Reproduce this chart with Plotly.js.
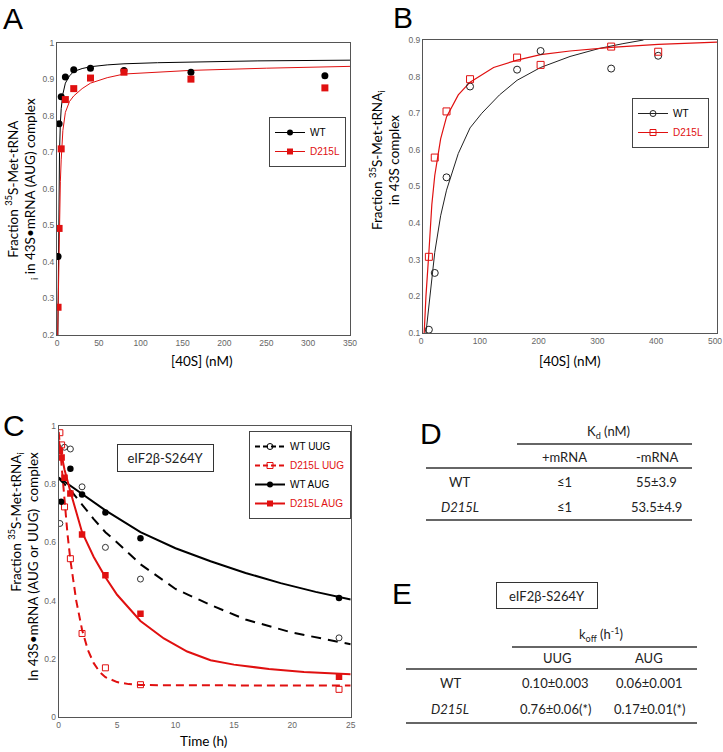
<!DOCTYPE html>
<html>
<head>
<meta charset="utf-8">
<script src="https://cdn.plot.ly/plotly-3.0.1.min.js"></script>
<style>html,body{margin:0;padding:0;background:#fff;}#chart{width:723px;height:752px;}</style>
</head>
<body>
<div id="chart"></div>
<script>
// ---------- Panel A data ----------
const aConc = [1.25, 2.5, 5, 10, 20, 40, 80, 160, 320];
const aWT = [0.415, 0.779, 0.853, 0.907, 0.927, 0.931, 0.925, 0.920, 0.910];
const aD215L = [0.276, 0.492, 0.710, 0.845, 0.875, 0.904, 0.920, 0.901, 0.877];
const aFitWTx = [1.0, 1.5, 2, 2.5, 3, 4, 5, 7, 10, 15, 20, 30, 40, 60, 80, 120, 160, 240, 350];
const aFitWTy = [0.2, 0.40, 0.55, 0.64, 0.70, 0.78, 0.82, 0.86, 0.89, 0.91, 0.922, 0.93, 0.935, 0.94, 0.943, 0.946, 0.948, 0.951, 0.953];
const aFitDx = [0.8, 1.25, 2, 2.5, 3, 4, 5, 7, 10, 15, 20, 30, 40, 60, 80, 120, 160, 250, 350];
const aFitDy = [0.2, 0.27, 0.38, 0.45, 0.52, 0.62, 0.68, 0.76, 0.81, 0.84, 0.855, 0.875, 0.89, 0.905, 0.915, 0.921, 0.925, 0.931, 0.936];

// ---------- Panel B data ----------
const bConc = [10, 20, 40, 80, 160, 200, 320, 400];
const bWT = [0.109, 0.264, 0.525, 0.773, 0.819, 0.870, 0.822, 0.857];
const bD215L = [0.308, 0.579, 0.705, 0.793, 0.852, 0.832, 0.882, 0.868];
const bFitWTx = [5, 10, 15, 20, 30, 40, 60, 80, 100, 130, 160, 200, 250, 300, 340, 375];
const bFitWTy = [0.1, 0.18, 0.26, 0.32, 0.42, 0.49, 0.59, 0.66, 0.70, 0.75, 0.79, 0.825, 0.855, 0.877, 0.89, 0.9];
const bFitDx = [2, 5, 10, 15, 20, 30, 40, 60, 80, 120, 160, 200, 250, 320, 400, 500];
const bFitDy = [0.1, 0.2, 0.32, 0.45, 0.53, 0.63, 0.69, 0.75, 0.785, 0.825, 0.845, 0.86, 0.87, 0.88, 0.888, 0.894];

// ---------- Panel C data ----------
const cWTUUGt = [0.1, 0.5, 1, 2, 4, 7, 24];
const cWTUUG = [0.665, 0.927, 0.921, 0.791, 0.583, 0.474, 0.272];
const cDUUGt = [0.1, 0.25, 0.5, 1, 2, 4, 7, 24];
const cDUUG = [0.977, 0.935, 0.722, 0.544, 0.287, 0.169, 0.111, 0.095];
const cWTAUGt = [0.2, 1, 2, 4, 7, 24];
const cWTAUG = [0.740, 0.853, 0.765, 0.703, 0.614, 0.409];
const cDAUGt = [0.1, 0.25, 0.5, 1, 2, 4, 7, 24];
const cDAUG = [0.915, 0.892, 0.822, 0.768, 0.627, 0.487, 0.355, 0.138];
const cFitWTAUGt = [0, 1, 2, 4, 7, 10, 13, 16, 19, 22, 25];
const cFitWTAUG = [0.823, 0.795, 0.765, 0.71, 0.635, 0.58, 0.535, 0.495, 0.46, 0.43, 0.404];
const cFitWTUUGt = [0, 1, 2, 3, 4, 5, 7, 10, 13, 16, 20, 25];
const cFitWTUUG = [0.82, 0.78, 0.73, 0.68, 0.635, 0.6, 0.525, 0.44, 0.385, 0.335, 0.29, 0.25];
const cFitDAUGt = [0, 0.5, 1, 2, 3, 4, 5, 7, 9, 11, 13, 15, 18, 21, 25];
const cFitDAUG = [0.95, 0.85, 0.775, 0.635, 0.55, 0.48, 0.42, 0.33, 0.27, 0.225, 0.195, 0.18, 0.165, 0.155, 0.147];
const cFitDUUGt = [0, 0.25, 0.5, 0.75, 1, 1.5, 2, 2.5, 3, 3.5, 4, 5, 6, 7, 10, 25];
const cFitDUUG = [0.98, 0.86, 0.74, 0.63, 0.54, 0.4, 0.3, 0.23, 0.185, 0.155, 0.137, 0.12, 0.113, 0.11, 0.109, 0.108];

// ---------- Tables ----------
const dHeader = 'K<sub>d</sub> (nM)';
const dCols = ['+mRNA', '-mRNA'];
const rowLabels = ['WT', '<i>D215L</i>'];
const dPlus = ['≤1', '≤1'];
const dMinus = ['55±3.9', '53.5±4.9'];
const eHeader = 'k<sub>off</sub> (h<sup>-1</sup>)';
const eCols = ['UUG', 'AUG'];
const eUUG = ['0.10±0.003', '0.76±0.06(*)'];
const eAUG = ['0.06±0.001', '0.17±0.01(*)'];

const W = 723, H = 752;
const px = x => x / W;
const py = y => 1 - y / H;
const RED = '#e01010';
const BLK = '#000000';
const tickFont = {family: 'Liberation Sans, Arial', size: 8.5, color: '#666'};
const titleFont = {family: 'Lato, Open Sans', size: 13.5, color: '#000'};
const tabFont = {family: 'Lato, Open Sans', size: 13, color: '#222'};

function axisBase(domain, range, dtick) {
  return {domain: domain, range: range, dtick: dtick, showgrid: false, zeroline: false,
    showline: true, mirror: true, linecolor: '#555', linewidth: 1, ticks: '',
    tickfont: tickFont, fixedrange: true, ticklabeloverflow: 'allow'};
}

const traces = [];
// Panel A
traces.push({x: aFitWTx, y: aFitWTy, mode: 'lines', line: {color: BLK, width: 1}, xaxis: 'x', yaxis: 'y', showlegend: false});
traces.push({x: aFitDx, y: aFitDy, mode: 'lines', line: {color: RED, width: 1}, xaxis: 'x', yaxis: 'y', showlegend: false});
traces.push({x: aConc, y: aWT, mode: 'markers', marker: {symbol: 'circle', size: 7, color: BLK}, xaxis: 'x', yaxis: 'y', showlegend: false});
traces.push({x: aConc, y: aD215L, mode: 'markers', marker: {symbol: 'square', size: 7, color: RED}, xaxis: 'x', yaxis: 'y', showlegend: false});
traces.push({x: [null], y: [null], name: 'WT', mode: 'lines+markers', line: {color: BLK, width: 1}, marker: {symbol: 'circle', size: 6, color: BLK}, xaxis: 'x', yaxis: 'y', legend: 'legend'});
traces.push({x: [null], y: [null], name: '<span style="color:' + RED + '">D215L</span>', mode: 'lines+markers', line: {color: RED, width: 1}, marker: {symbol: 'square', size: 6, color: RED}, xaxis: 'x', yaxis: 'y', legend: 'legend'});

// Panel B
traces.push({x: bFitWTx, y: bFitWTy, mode: 'lines', line: {color: '#222', width: 1}, xaxis: 'x2', yaxis: 'y2', showlegend: false});
traces.push({x: bFitDx, y: bFitDy, mode: 'lines', line: {color: RED, width: 1.2}, xaxis: 'x2', yaxis: 'y2', showlegend: false});
traces.push({x: bConc, y: bWT, mode: 'markers', marker: {symbol: 'circle-open', size: 7, color: '#222', line: {width: 1}}, xaxis: 'x2', yaxis: 'y2', showlegend: false});
traces.push({x: bConc, y: bD215L, mode: 'markers', marker: {symbol: 'square-open', size: 7, color: RED, line: {width: 1}}, xaxis: 'x2', yaxis: 'y2', showlegend: false});
traces.push({x: [null], y: [null], name: 'WT', mode: 'lines+markers', line: {color: '#222', width: 1}, marker: {symbol: 'circle-open', size: 6, color: '#222'}, xaxis: 'x2', yaxis: 'y2', legend: 'legend2'});
traces.push({x: [null], y: [null], name: '<span style="color:' + RED + '">D215L</span>', mode: 'lines+markers', line: {color: RED, width: 1}, marker: {symbol: 'square-open', size: 6, color: RED}, xaxis: 'x2', yaxis: 'y2', legend: 'legend2'});

// Panel C
traces.push({x: cFitWTAUGt, y: cFitWTAUG, mode: 'lines', line: {color: BLK, width: 2}, xaxis: 'x3', yaxis: 'y3', showlegend: false});
traces.push({x: cFitWTUUGt, y: cFitWTUUG, mode: 'lines', line: {color: BLK, width: 2, dash: '10px,7px'}, xaxis: 'x3', yaxis: 'y3', showlegend: false});
traces.push({x: cFitDAUGt, y: cFitDAUG, mode: 'lines', line: {color: RED, width: 2}, xaxis: 'x3', yaxis: 'y3', showlegend: false});
traces.push({x: cFitDUUGt, y: cFitDUUG, mode: 'lines', line: {color: RED, width: 2, dash: '8px,5px'}, xaxis: 'x3', yaxis: 'y3', showlegend: false});
traces.push({x: cWTUUGt, y: cWTUUG, mode: 'markers', marker: {symbol: 'circle-open', size: 6, color: '#333', line: {width: 1}}, xaxis: 'x3', yaxis: 'y3', showlegend: false});
traces.push({x: cDUUGt, y: cDUUG, mode: 'markers', marker: {symbol: 'square-open', size: 6, color: RED, line: {width: 1}}, xaxis: 'x3', yaxis: 'y3', showlegend: false});
traces.push({x: cWTAUGt, y: cWTAUG, mode: 'markers', marker: {symbol: 'circle', size: 6.5, color: BLK}, xaxis: 'x3', yaxis: 'y3', showlegend: false});
traces.push({x: cDAUGt, y: cDAUG, mode: 'markers', marker: {symbol: 'square', size: 6.5, color: RED}, xaxis: 'x3', yaxis: 'y3', showlegend: false});
traces.push({x: [null], y: [null], name: 'WT UUG', mode: 'lines+markers', line: {color: BLK, width: 2, dash: '5px,3px'}, marker: {symbol: 'circle-open', size: 6, color: BLK}, xaxis: 'x3', yaxis: 'y3', legend: 'legend3'});
traces.push({x: [null], y: [null], name: '<span style="color:' + RED + '">D215L UUG</span>', mode: 'lines+markers', line: {color: RED, width: 2, dash: '5px,3px'}, marker: {symbol: 'square-open', size: 6, color: RED}, xaxis: 'x3', yaxis: 'y3', legend: 'legend3'});
traces.push({x: [null], y: [null], name: 'WT AUG', mode: 'lines+markers', line: {color: BLK, width: 2}, marker: {symbol: 'circle', size: 6, color: BLK}, xaxis: 'x3', yaxis: 'y3', legend: 'legend3'});
traces.push({x: [null], y: [null], name: '<span style="color:' + RED + '">D215L AUG</span>', mode: 'lines+markers', line: {color: RED, width: 2}, marker: {symbol: 'square', size: 6, color: RED}, xaxis: 'x3', yaxis: 'y3', legend: 'legend3'});

const ann = [];
function A(text, x, y, extra) {
  ann.push(Object.assign({text: text, x: px(x), y: py(y), xref: 'paper', yref: 'paper', showarrow: false,
    xanchor: 'center', yanchor: 'middle', font: tabFont}, extra || {}));
}
// panel letters
const letterFont = {family: 'Liberation Sans, Arial', size: 30, color: '#000'};
A('A', 13, 1, {font: letterFont, yanchor: 'top', borderpad: 0});
A('B', 403, 0, {font: letterFont, yanchor: 'top', borderpad: 0});
A('C', 14, 425, {font: letterFont});
A('D', 431, 433, {font: letterFont});
A('E', 402, 593, {font: letterFont});
// axis titles
A('Fraction <sup>35</sup>S-Met-tRNA<br><sub>i</sub> in 43S•mRNA (AUG) complex', 21, 189, {textangle: -90, font: titleFont});
A('[40S] (nM)', 202, 361, {font: titleFont});
A('Fraction <sup>35</sup>S-Met-tRNA<sub>i</sub><br>in 43S complex', 385, 160, {textangle: -90, font: titleFont});
A('[40S] (nM)', 570, 361, {font: titleFont});
A('Fraction <sup>35</sup>S-Met-tRNA<sub>i</sub><br>In 43S•mRNA (AUG or UUG)\u00a0\u00a0complex', 23, 567, {textangle: -90, align: 'right', font: titleFont});
A('Time (h)', 203, 741, {font: titleFont});
// boxes
A('eIF2β-S264Y', 165, 458, {bordercolor: '#333', borderwidth: 1, width: 93, height: 24, font: tabFont, bgcolor: '#fff'});
A('eIF2β-S264Y', 547, 595, {bordercolor: '#333', borderwidth: 1, width: 98, height: 23, font: tabFont});
// table D
A(dHeader, 608, 432);
A(dCols[0], 564, 457); A(dCols[1], 657, 457);
for (let i = 0; i < rowLabels.length; i++) {
  const yy = 482 + i * 25.5;
  A(rowLabels[i], 460, yy); A(dPlus[i], 564, yy); A(dMinus[i], 656, yy);
}
// table E
A(eHeader, 601, 634);
A(eCols[0], 557, 658); A(eCols[1], 649, 658);
for (let i = 0; i < rowLabels.length; i++) {
  const yy = 683 + i * 26;
  A(rowLabels[i], 450, yy); A(eUUG[i], 555, yy); A(eAUG[i], 649, yy);
}

function L(x0, x1, y) {
  return {type: 'line', xref: 'paper', yref: 'paper', x0: px(x0), x1: px(x1), y0: py(y), y1: py(y), line: {color: '#333', width: 1.5}};
}
const shapes = [L(517, 692, 444), L(426, 692, 468), L(426, 692, 520), L(512, 697, 647), L(406, 697, 669), L(406, 697, 723)];

const legBase = {bgcolor: '#fff', bordercolor: '#444', borderwidth: 1, xanchor: 'left', yanchor: 'top',
  itemwidth: 30, tracegroupgap: 0, font: {family: 'Liberation Sans, Arial', size: 10, color: '#000'}};

const layout = {
  width: W, height: H, margin: {l: 0, r: 0, t: 0, b: 0}, paper_bgcolor: '#fff', plot_bgcolor: '#fff',
  hovermode: false,
  xaxis: axisBase([px(57), px(350)], [0, 350], 50),
  yaxis: axisBase([py(335), py(43)], [0.2, 1], 0.1),
  xaxis2: Object.assign(axisBase([px(423), px(717)], [0, 500], 100), {anchor: 'y2', ticklabelshift: -2}),
  yaxis2: Object.assign(axisBase([py(333), py(40)], [0.1, 0.9], 0.1), {anchor: 'x2'}),
  xaxis3: Object.assign(axisBase([px(58.7), px(350.7)], [0, 25], 5), {anchor: 'y3'}),
  yaxis3: Object.assign(axisBase([py(717), py(426)], [0, 1], 0.2), {anchor: 'x3'}),
  legend: Object.assign({}, legBase, {x: px(269), y: py(117)}),
  legend2: Object.assign({}, legBase, {x: px(632), y: py(98)}),
  legend3: Object.assign({}, legBase, {x: px(249), y: py(431)}),
  annotations: ann,
  shapes: shapes
};

Plotly.newPlot('chart', traces, layout, {staticPlot: true, displayModeBar: false});
</script>
</body>
</html>
